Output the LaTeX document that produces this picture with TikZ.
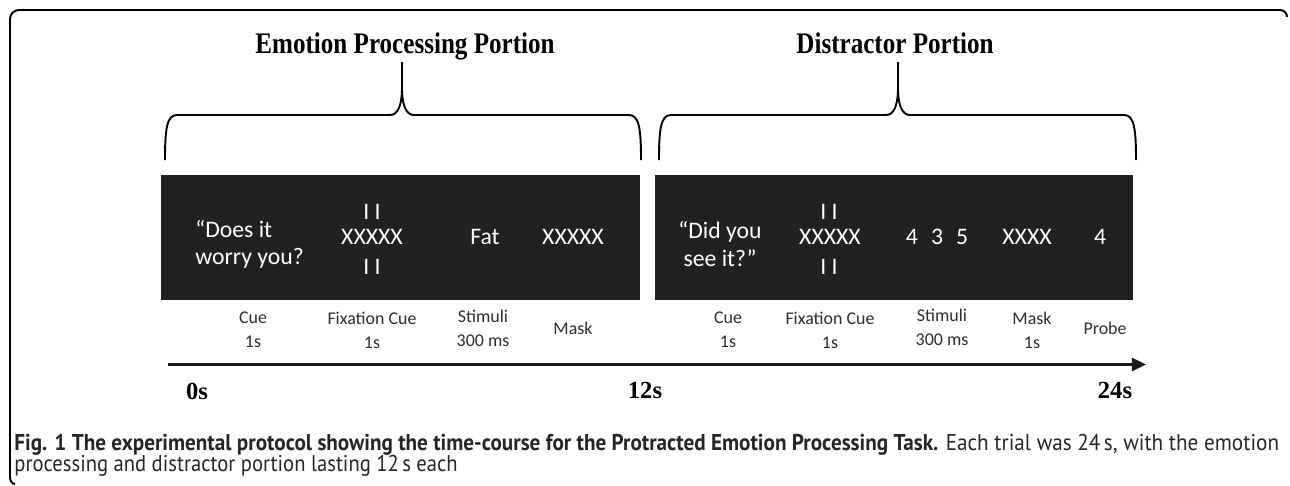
\documentclass[tikz,border=0pt]{standalone}
\usepackage{fontspec}
\usepackage{graphicx}
\setmainfont{Liberation Serif}
\newfontfamily\calib{Carlito}
\newfontfamily\capfont{PT Sans}
\usetikzlibrary{arrows.meta}
\definecolor{boxfill}{RGB}{33,33,33}
\definecolor{labelcol}{RGB}{45,45,45}
\begin{document}
\begin{tikzpicture}[x=0.02cm,y=-0.02cm,
  portion/.style={font=\fontsize{17}{20}\selectfont\bfseries, text=black, inner sep=0, anchor=base},
  panel/.style={fill=boxfill, draw=none},
  intext/.style={font=\calib\fontsize{13.5}{15.5}\selectfont, text=white, inner sep=0},
  lbl/.style={font=\calib\fontsize{10.2}{13.6}\selectfont, text=labelcol, align=center, inner sep=0},
  tick/.style={font=\fontsize{14}{16}\selectfont\bfseries, inner sep=0},
  brace/.style={line width=1.1pt, line join=round},
  capline/.style={font=\capfont\fontsize{13}{15}\selectfont, anchor=base west, inner sep=0, text=black!85}]

\useasboundingbox (0,0) rectangle (1290,485);

% frame
\draw[line width=1.1pt] (15,484) to[out=180,in=-90] (10,477) -- (10,19) to[out=90,in=180] (19,10) -- (1280,10) to[out=0,in=90] (1287,17);

% titles
\node[portion] (tEmo) at (405,53) {\scalebox{0.84}[1]{Emotion Processing Portion}};
\node[portion] (tDis) at (895,53) {\scalebox{0.84}[1]{Distractor Portion}};

% braces
\draw[brace] (165,160) .. controls (165,128) and (167,115) .. (177,115) -- (390,115)
  .. controls (398,115) and (402,105) .. (402,88) -- (402,62);
\draw[brace] (402,88) .. controls (402,105) and (406,115) .. (414,115) -- (629,115)
  .. controls (639,115) and (641,128) .. (641,160);
\draw[brace] (659,160) .. controls (659,128) and (661,115) .. (671,115) -- (886,115)
  .. controls (894,115) and (898,105) .. (898,88) -- (898,62);
\draw[brace] (898,88) .. controls (898,105) and (902,115) .. (910,115) -- (1124,115)
  .. controls (1134,115) and (1136,128) .. (1136,160);

% panels
\fill[panel] (161,175) rectangle (640,300);
\fill[panel] (655,175) rectangle (1133,300);

% panel 1 texts
\node[intext, anchor=west, align=left] (cue1) at (195,244) {“Does it\\worry you?};
\node[intext] (fixT1) at (372,212) {I I};
\node[intext] (fixX1) at (372,237) {XXXXX};
\node[intext] (fixB1) at (372,267) {I I};
\node[intext] (stim1) at (485,237) {Fat};
\node[intext] (mask1) at (573,237) {XXXXX};

% panel 2 texts
\node[intext, align=center] (cue2) at (720,244) {“Did you\\see it?”};
\node[intext] (fixT2) at (829,212) {I I};
\node[intext] (fixX2) at (830,237) {XXXXX};
\node[intext] (fixB2) at (829,267) {I I};
\node[intext] (stim2) at (937,237) {4\hspace{0.55em}3\hspace{0.55em}5};
\node[intext] (mask2) at (1027,237) {XXXX};
\node[intext] (probe2) at (1100,237) {4};

% labels
\node[lbl] (lCue1) at (253,330) {Cue\\1s};
\node[lbl] (lFix1) at (372,330) {Fixation Cue\\1s};
\node[lbl] (lStim1) at (483,328) {Stimuli\\300 ms};
\node[lbl] (lMask1) at (573,328) {Mask};
\node[lbl] (lCue2) at (728,330) {Cue\\1s};
\node[lbl] (lFix2) at (830,330) {Fixation Cue\\1s};
\node[lbl] (lStim2) at (942,327) {Stimuli\\300 ms};
\node[lbl] (lMask2) at (1032,330) {Mask\\1s};
\node[lbl] (lProbe2) at (1105,328) {Probe};

% time axis
\coordinate (t0) at (168,364.5);
\coordinate (t1) at (1146,364.5);
\draw[line width=1.2pt, draw=black!90, -{Triangle[length=8pt,width=7.5pt]}] (t0) -- (t1);
\node[tick] (s0) at (197,391) {0s};
\node[tick] (s12) at (645,390) {12s};
\node[tick] (s24) at (1115,390) {24s};

% caption
\node[capline] (cap1) at (14,450) {\resizebox{25.3cm}{\height}{\textbf{Fig. 1 The experimental protocol showing the time-course for the Protracted Emotion Processing Task.} Each trial was 24\,s, with the emotion}};
\node[capline] (cap2) at (14,471) {\resizebox{8.87cm}{\height}{processing and distractor portion lasting 12\,s each}};
\end{tikzpicture}
\end{document}
